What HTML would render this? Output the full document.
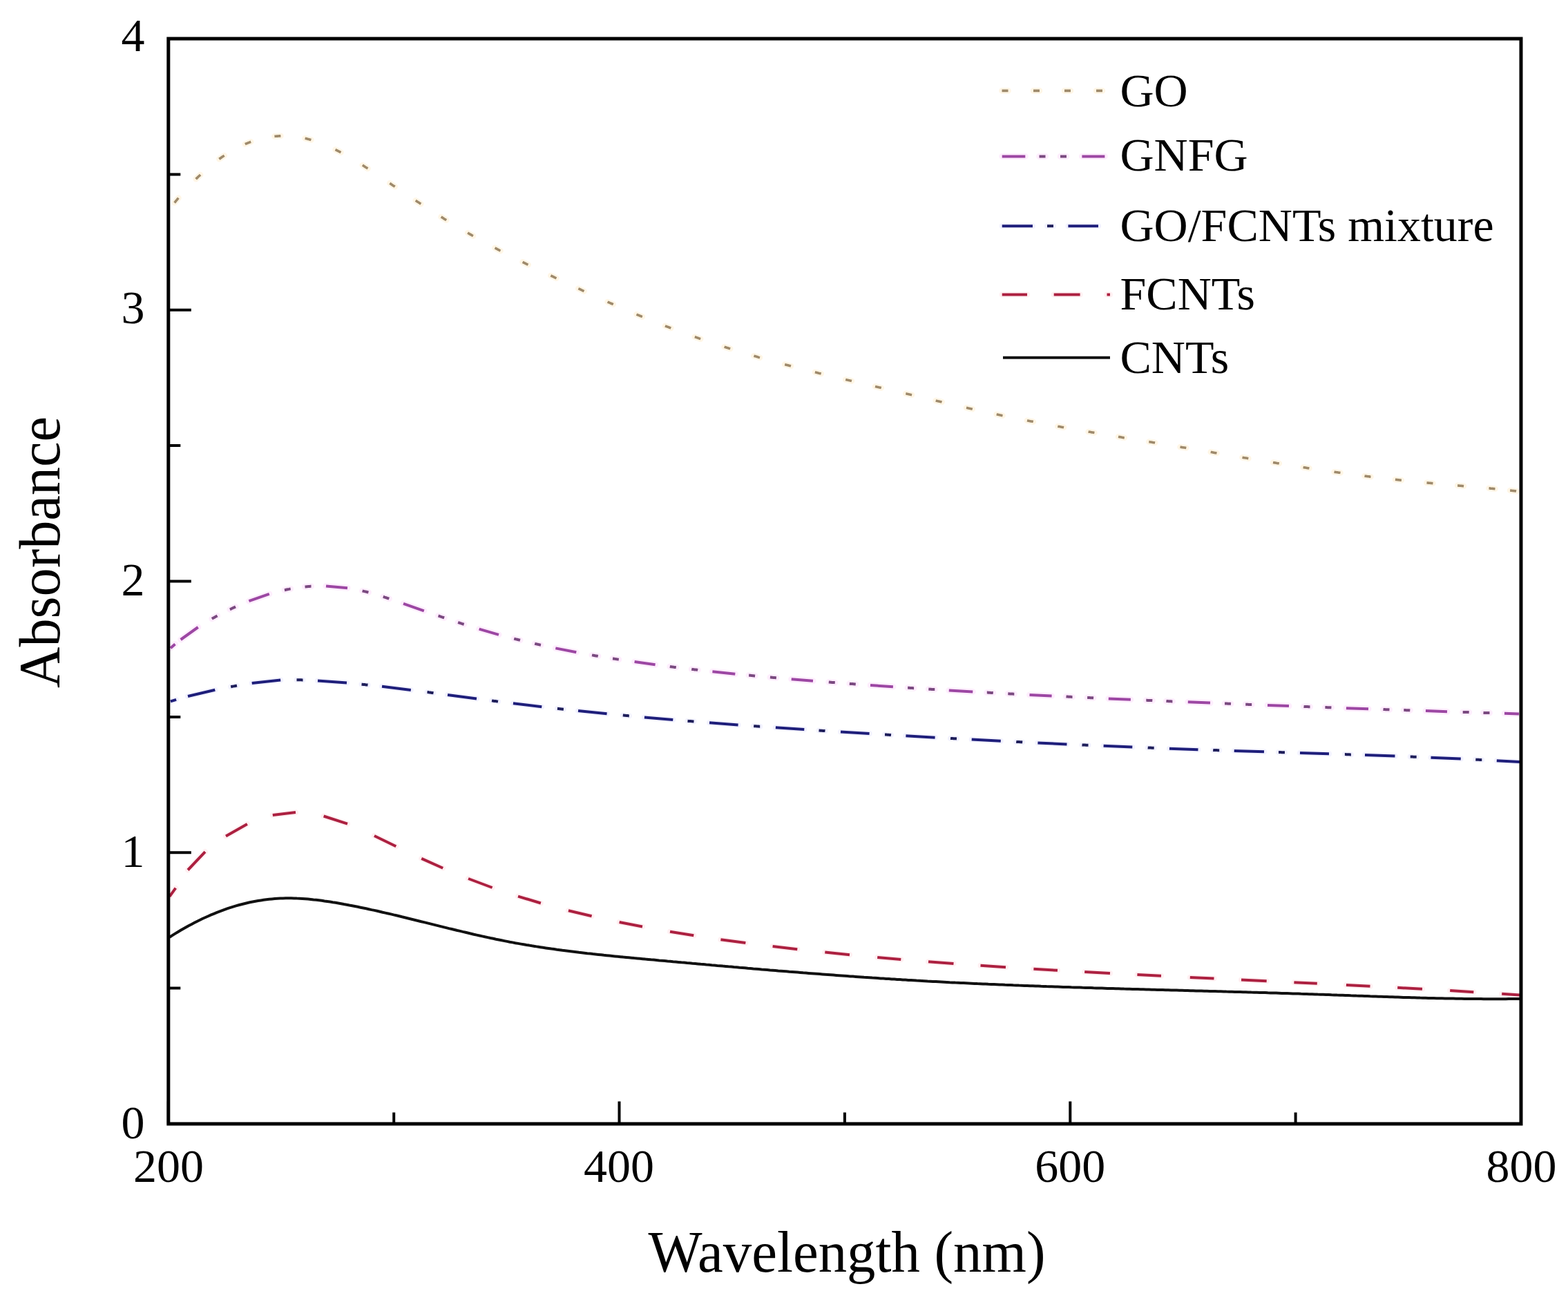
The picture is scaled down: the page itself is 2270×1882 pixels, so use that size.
<!DOCTYPE html>
<html><head><meta charset="utf-8"><title>Absorbance vs Wavelength</title>
<style>html,body{margin:0;padding:0;background:#fff;width:2270px;height:1882px;overflow:hidden}svg{display:block}</style>
</head><body>
<svg width="2270" height="1882" viewBox="0 0 2270 1882" font-family='"Liberation Serif", "Times New Roman", serif' fill="#000"><g><rect x="0" y="0" width="2270" height="1882" fill="#fff"/>
<path d="M252.6,293.5 L253.8,292.1 L254.9,290.7 L256.1,289.3 L257.2,287.9 L258.4,286.6 M283.7,259.2 L284.7,258.1 L285.8,257.1 L286.9,256.0 L288.0,255.0 L289.1,254.0 L290.1,253.0 M317.3,230.3 L318.4,229.5 L319.4,228.8 L320.5,228.0 L321.5,227.3 L322.6,226.6 L323.6,225.9 L324.7,225.2 M354.8,208.7 L355.9,208.2 L356.9,207.8 L358.0,207.4 L359.0,206.9 L360.0,206.5 L361.1,206.1 L362.1,205.7 L363.2,205.3 M397.4,197.4 L398.5,197.3 L399.7,197.2 L400.8,197.1 L401.9,197.1 L403.0,197.0 L404.1,196.9 L405.3,196.9 L406.4,196.8 M441.6,200.3 L442.7,200.5 L443.8,200.8 L444.9,201.1 L446.0,201.4 L447.1,201.6 L448.2,201.9 L449.3,202.2 L450.4,202.5 M485.5,216.6 L486.5,217.1 L487.5,217.6 L488.5,218.1 L489.5,218.6 L490.5,219.1 L491.5,219.6 L492.5,220.2 L493.5,220.7 M524.8,239.1 L525.9,239.8 L527.0,240.5 L528.1,241.2 L529.1,241.9 L530.2,242.6 L531.3,243.3 L532.4,244.0 M564.3,265.3 L565.3,266.0 L566.4,266.8 L567.5,267.5 L568.5,268.2 L569.6,268.9 L570.7,269.6 L571.7,270.3 M601.7,290.3 L602.8,291.0 L603.9,291.7 L605.0,292.4 L606.0,293.1 L607.1,293.8 L608.2,294.6 L609.3,295.3 M638.6,314.0 L639.7,314.6 L640.8,315.3 L641.9,316.0 L642.9,316.7 L644.0,317.4 L645.1,318.0 L646.2,318.7 M677.1,337.1 L678.2,337.8 L679.3,338.4 L680.4,339.1 L681.6,339.7 L682.7,340.3 L683.8,341.0 L684.9,341.6 M716.5,358.9 L717.7,359.5 L718.8,360.1 L719.9,360.7 L721.1,361.3 L722.2,361.9 L723.3,362.5 L724.5,363.1 M756.6,379.3 L757.6,379.8 L758.6,380.3 L759.6,380.8 L760.6,381.3 L761.6,381.8 L762.6,382.3 L763.6,382.8 L764.6,383.2 M797.3,399.0 L798.4,399.5 L799.4,399.9 L800.4,400.4 L801.4,400.9 L802.4,401.4 L803.4,401.9 L804.4,402.3 L805.5,402.8 M837.3,417.8 L838.3,418.2 L839.4,418.7 L840.4,419.2 L841.4,419.7 L842.4,420.1 L843.4,420.6 L844.5,421.1 L845.5,421.6 M879.6,437.0 L880.6,437.5 L881.6,437.9 L882.7,438.4 L883.7,438.8 L884.7,439.3 L885.8,439.7 L886.8,440.2 L887.8,440.7 M921.5,455.1 L922.6,455.6 L923.6,456.0 L924.7,456.4 L925.7,456.9 L926.7,457.3 L927.8,457.7 L928.8,458.2 L929.9,458.6 M962.9,471.8 L963.9,472.2 L965.0,472.6 L966.0,473.0 L967.1,473.4 L968.2,473.8 L969.2,474.2 L970.3,474.6 L971.3,475.0 M1005.8,487.7 L1006.8,488.0 L1007.9,488.4 L1008.9,488.8 L1010.0,489.1 L1011.1,489.5 L1012.1,489.9 L1013.2,490.3 L1014.2,490.6 M1048.6,502.1 L1049.7,502.5 L1050.8,502.8 L1051.8,503.2 L1052.9,503.5 L1054.0,503.8 L1055.0,504.2 L1056.1,504.5 L1057.2,504.8 M1091.4,515.2 L1092.5,515.5 L1093.5,515.8 L1094.6,516.1 L1095.7,516.4 L1096.8,516.7 L1097.9,517.1 L1098.9,517.4 L1100.0,517.7 M1136.2,527.6 L1137.3,527.9 L1138.4,528.2 L1139.5,528.5 L1140.6,528.8 L1141.7,529.1 L1142.8,529.4 L1143.9,529.6 L1145.0,529.9 M1179.9,538.8 L1181.0,539.1 L1182.1,539.4 L1183.2,539.6 L1184.3,539.9 L1185.4,540.2 L1186.5,540.4 L1187.6,540.7 L1188.7,541.0 M1224.2,549.5 L1225.3,549.8 L1226.4,550.1 L1227.5,550.3 L1228.6,550.6 L1229.7,550.8 L1230.8,551.1 L1231.9,551.3 L1233.0,551.6 M1267.0,559.5 L1268.1,559.8 L1269.2,560.0 L1270.3,560.3 L1271.4,560.5 L1272.5,560.8 L1273.6,561.0 L1274.7,561.3 L1275.8,561.6 M1311.3,569.8 L1312.4,570.0 L1313.5,570.3 L1314.6,570.5 L1315.7,570.8 L1316.8,571.1 L1317.9,571.3 L1319.0,571.6 L1320.1,571.8 M1354.7,579.9 L1355.8,580.2 L1356.9,580.4 L1358.0,580.7 L1359.1,580.9 L1360.2,581.2 L1361.3,581.5 L1362.4,581.7 L1363.5,582.0 M1399.0,590.2 L1400.1,590.4 L1401.2,590.7 L1402.3,590.9 L1403.4,591.2 L1404.5,591.4 L1405.6,591.7 L1406.7,591.9 L1407.8,592.2 M1442.7,599.8 L1443.8,600.1 L1444.9,600.3 L1446.0,600.5 L1447.1,600.8 L1448.2,601.0 L1449.3,601.2 L1450.4,601.5 L1451.5,601.7 M1487.0,608.8 L1488.1,609.1 L1489.2,609.3 L1490.3,609.5 L1491.4,609.7 L1492.5,609.9 L1493.6,610.1 L1494.7,610.3 L1495.8,610.6 M1531.3,617.2 L1532.4,617.4 L1533.5,617.6 L1534.6,617.8 L1535.7,618.0 L1536.8,618.2 L1537.9,618.4 L1539.0,618.6 L1540.1,618.8 M1575.6,625.0 L1576.7,625.2 L1577.8,625.3 L1578.9,625.5 L1580.0,625.7 L1581.1,625.9 L1582.2,626.1 L1583.3,626.3 L1584.4,626.5 M1619.0,632.3 L1620.1,632.5 L1621.2,632.6 L1622.3,632.8 L1623.4,633.0 L1624.5,633.2 L1625.6,633.4 L1626.7,633.6 L1627.8,633.7 M1663.3,639.6 L1664.4,639.7 L1665.5,639.9 L1666.6,640.1 L1667.7,640.3 L1668.8,640.5 L1669.9,640.7 L1671.0,640.8 L1672.1,641.0 M1708.5,647.0 L1709.6,647.2 L1710.7,647.4 L1711.8,647.6 L1712.9,647.7 L1714.0,647.9 L1715.1,648.1 L1716.2,648.3 L1717.3,648.5 M1752.7,654.4 L1753.8,654.6 L1754.9,654.8 L1756.0,655.0 L1757.1,655.2 L1758.2,655.4 L1759.3,655.6 L1760.4,655.7 L1761.5,655.9 M1798.5,662.2 L1799.6,662.4 L1800.7,662.6 L1801.8,662.7 L1802.9,662.9 L1804.0,663.1 L1805.1,663.3 L1806.2,663.5 L1807.3,663.7 M1843.0,669.6 L1844.1,669.8 L1845.2,669.9 L1846.3,670.1 L1847.4,670.3 L1848.5,670.5 L1849.6,670.7 L1850.7,670.8 L1851.8,671.0 M1886.6,676.5 L1887.7,676.7 L1888.8,676.9 L1889.9,677.0 L1891.0,677.2 L1892.1,677.4 L1893.2,677.6 L1894.3,677.7 L1895.4,677.9 M1931.5,683.2 L1932.7,683.4 L1933.8,683.5 L1934.9,683.7 L1936.0,683.8 L1937.1,684.0 L1938.2,684.2 L1939.3,684.3 L1940.5,684.5 M1975.5,689.1 L1976.7,689.3 L1977.8,689.4 L1978.9,689.5 L1980.0,689.7 L1981.1,689.8 L1982.2,689.9 L1983.3,690.1 L1984.5,690.2 M2019.9,694.3 L2021.0,694.4 L2022.2,694.5 L2023.3,694.6 L2024.4,694.8 L2025.5,694.9 L2026.6,695.0 L2027.8,695.1 L2028.9,695.2 M2065.5,698.9 L2066.6,699.0 L2067.8,699.1 L2068.9,699.2 L2070.0,699.3 L2071.1,699.4 L2072.2,699.5 L2073.4,699.6 L2074.5,699.7 M2110.1,702.9 L2111.2,703.0 L2112.4,703.1 L2113.5,703.2 L2114.6,703.3 L2115.7,703.4 L2116.8,703.5 L2118.0,703.6 L2119.1,703.7 M2155.5,706.8 L2156.6,706.9 L2157.8,707.1 L2158.9,707.2 L2160.0,707.3 L2161.1,707.4 L2162.2,707.5 L2163.4,707.6 L2164.5,707.7 M2186.1,710.0 L2187.2,710.1 L2188.4,710.2 L2189.5,710.4 L2190.6,710.5 L2191.7,710.6 L2192.8,710.8 L2194.0,710.9 L2195.1,711.1" stroke="#fff6e6" stroke-width="8.6" stroke-linecap="round" fill="none"/>
<path d="M252.6,293.5 L253.8,292.1 L254.9,290.7 L256.1,289.3 L257.2,287.9 L258.4,286.6 M283.7,259.2 L284.7,258.1 L285.8,257.1 L286.9,256.0 L288.0,255.0 L289.1,254.0 L290.1,253.0 M317.3,230.3 L318.4,229.5 L319.4,228.8 L320.5,228.0 L321.5,227.3 L322.6,226.6 L323.6,225.9 L324.7,225.2 M354.8,208.7 L355.9,208.2 L356.9,207.8 L358.0,207.4 L359.0,206.9 L360.0,206.5 L361.1,206.1 L362.1,205.7 L363.2,205.3 M397.4,197.4 L398.5,197.3 L399.7,197.2 L400.8,197.1 L401.9,197.1 L403.0,197.0 L404.1,196.9 L405.3,196.9 L406.4,196.8 M441.6,200.3 L442.7,200.5 L443.8,200.8 L444.9,201.1 L446.0,201.4 L447.1,201.6 L448.2,201.9 L449.3,202.2 L450.4,202.5 M485.5,216.6 L486.5,217.1 L487.5,217.6 L488.5,218.1 L489.5,218.6 L490.5,219.1 L491.5,219.6 L492.5,220.2 L493.5,220.7 M524.8,239.1 L525.9,239.8 L527.0,240.5 L528.1,241.2 L529.1,241.9 L530.2,242.6 L531.3,243.3 L532.4,244.0 M564.3,265.3 L565.3,266.0 L566.4,266.8 L567.5,267.5 L568.5,268.2 L569.6,268.9 L570.7,269.6 L571.7,270.3 M601.7,290.3 L602.8,291.0 L603.9,291.7 L605.0,292.4 L606.0,293.1 L607.1,293.8 L608.2,294.6 L609.3,295.3 M638.6,314.0 L639.7,314.6 L640.8,315.3 L641.9,316.0 L642.9,316.7 L644.0,317.4 L645.1,318.0 L646.2,318.7 M677.1,337.1 L678.2,337.8 L679.3,338.4 L680.4,339.1 L681.6,339.7 L682.7,340.3 L683.8,341.0 L684.9,341.6 M716.5,358.9 L717.7,359.5 L718.8,360.1 L719.9,360.7 L721.1,361.3 L722.2,361.9 L723.3,362.5 L724.5,363.1 M756.6,379.3 L757.6,379.8 L758.6,380.3 L759.6,380.8 L760.6,381.3 L761.6,381.8 L762.6,382.3 L763.6,382.8 L764.6,383.2 M797.3,399.0 L798.4,399.5 L799.4,399.9 L800.4,400.4 L801.4,400.9 L802.4,401.4 L803.4,401.9 L804.4,402.3 L805.5,402.8 M837.3,417.8 L838.3,418.2 L839.4,418.7 L840.4,419.2 L841.4,419.7 L842.4,420.1 L843.4,420.6 L844.5,421.1 L845.5,421.6 M879.6,437.0 L880.6,437.5 L881.6,437.9 L882.7,438.4 L883.7,438.8 L884.7,439.3 L885.8,439.7 L886.8,440.2 L887.8,440.7 M921.5,455.1 L922.6,455.6 L923.6,456.0 L924.7,456.4 L925.7,456.9 L926.7,457.3 L927.8,457.7 L928.8,458.2 L929.9,458.6 M962.9,471.8 L963.9,472.2 L965.0,472.6 L966.0,473.0 L967.1,473.4 L968.2,473.8 L969.2,474.2 L970.3,474.6 L971.3,475.0 M1005.8,487.7 L1006.8,488.0 L1007.9,488.4 L1008.9,488.8 L1010.0,489.1 L1011.1,489.5 L1012.1,489.9 L1013.2,490.3 L1014.2,490.6 M1048.6,502.1 L1049.7,502.5 L1050.8,502.8 L1051.8,503.2 L1052.9,503.5 L1054.0,503.8 L1055.0,504.2 L1056.1,504.5 L1057.2,504.8 M1091.4,515.2 L1092.5,515.5 L1093.5,515.8 L1094.6,516.1 L1095.7,516.4 L1096.8,516.7 L1097.9,517.1 L1098.9,517.4 L1100.0,517.7 M1136.2,527.6 L1137.3,527.9 L1138.4,528.2 L1139.5,528.5 L1140.6,528.8 L1141.7,529.1 L1142.8,529.4 L1143.9,529.6 L1145.0,529.9 M1179.9,538.8 L1181.0,539.1 L1182.1,539.4 L1183.2,539.6 L1184.3,539.9 L1185.4,540.2 L1186.5,540.4 L1187.6,540.7 L1188.7,541.0 M1224.2,549.5 L1225.3,549.8 L1226.4,550.1 L1227.5,550.3 L1228.6,550.6 L1229.7,550.8 L1230.8,551.1 L1231.9,551.3 L1233.0,551.6 M1267.0,559.5 L1268.1,559.8 L1269.2,560.0 L1270.3,560.3 L1271.4,560.5 L1272.5,560.8 L1273.6,561.0 L1274.7,561.3 L1275.8,561.6 M1311.3,569.8 L1312.4,570.0 L1313.5,570.3 L1314.6,570.5 L1315.7,570.8 L1316.8,571.1 L1317.9,571.3 L1319.0,571.6 L1320.1,571.8 M1354.7,579.9 L1355.8,580.2 L1356.9,580.4 L1358.0,580.7 L1359.1,580.9 L1360.2,581.2 L1361.3,581.5 L1362.4,581.7 L1363.5,582.0 M1399.0,590.2 L1400.1,590.4 L1401.2,590.7 L1402.3,590.9 L1403.4,591.2 L1404.5,591.4 L1405.6,591.7 L1406.7,591.9 L1407.8,592.2 M1442.7,599.8 L1443.8,600.1 L1444.9,600.3 L1446.0,600.5 L1447.1,600.8 L1448.2,601.0 L1449.3,601.2 L1450.4,601.5 L1451.5,601.7 M1487.0,608.8 L1488.1,609.1 L1489.2,609.3 L1490.3,609.5 L1491.4,609.7 L1492.5,609.9 L1493.6,610.1 L1494.7,610.3 L1495.8,610.6 M1531.3,617.2 L1532.4,617.4 L1533.5,617.6 L1534.6,617.8 L1535.7,618.0 L1536.8,618.2 L1537.9,618.4 L1539.0,618.6 L1540.1,618.8 M1575.6,625.0 L1576.7,625.2 L1577.8,625.3 L1578.9,625.5 L1580.0,625.7 L1581.1,625.9 L1582.2,626.1 L1583.3,626.3 L1584.4,626.5 M1619.0,632.3 L1620.1,632.5 L1621.2,632.6 L1622.3,632.8 L1623.4,633.0 L1624.5,633.2 L1625.6,633.4 L1626.7,633.6 L1627.8,633.7 M1663.3,639.6 L1664.4,639.7 L1665.5,639.9 L1666.6,640.1 L1667.7,640.3 L1668.8,640.5 L1669.9,640.7 L1671.0,640.8 L1672.1,641.0 M1708.5,647.0 L1709.6,647.2 L1710.7,647.4 L1711.8,647.6 L1712.9,647.7 L1714.0,647.9 L1715.1,648.1 L1716.2,648.3 L1717.3,648.5 M1752.7,654.4 L1753.8,654.6 L1754.9,654.8 L1756.0,655.0 L1757.1,655.2 L1758.2,655.4 L1759.3,655.6 L1760.4,655.7 L1761.5,655.9 M1798.5,662.2 L1799.6,662.4 L1800.7,662.6 L1801.8,662.7 L1802.9,662.9 L1804.0,663.1 L1805.1,663.3 L1806.2,663.5 L1807.3,663.7 M1843.0,669.6 L1844.1,669.8 L1845.2,669.9 L1846.3,670.1 L1847.4,670.3 L1848.5,670.5 L1849.6,670.7 L1850.7,670.8 L1851.8,671.0 M1886.6,676.5 L1887.7,676.7 L1888.8,676.9 L1889.9,677.0 L1891.0,677.2 L1892.1,677.4 L1893.2,677.6 L1894.3,677.7 L1895.4,677.9 M1931.5,683.2 L1932.7,683.4 L1933.8,683.5 L1934.9,683.7 L1936.0,683.8 L1937.1,684.0 L1938.2,684.2 L1939.3,684.3 L1940.5,684.5 M1975.5,689.1 L1976.7,689.3 L1977.8,689.4 L1978.9,689.5 L1980.0,689.7 L1981.1,689.8 L1982.2,689.9 L1983.3,690.1 L1984.5,690.2 M2019.9,694.3 L2021.0,694.4 L2022.2,694.5 L2023.3,694.6 L2024.4,694.8 L2025.5,694.9 L2026.6,695.0 L2027.8,695.1 L2028.9,695.2 M2065.5,698.9 L2066.6,699.0 L2067.8,699.1 L2068.9,699.2 L2070.0,699.3 L2071.1,699.4 L2072.2,699.5 L2073.4,699.6 L2074.5,699.7 M2110.1,702.9 L2111.2,703.0 L2112.4,703.1 L2113.5,703.2 L2114.6,703.3 L2115.7,703.4 L2116.8,703.5 L2118.0,703.6 L2119.1,703.7 M2155.5,706.8 L2156.6,706.9 L2157.8,707.1 L2158.9,707.2 L2160.0,707.3 L2161.1,707.4 L2162.2,707.5 L2163.4,707.6 L2164.5,707.7 M2186.1,710.0 L2187.2,710.1 L2188.4,710.2 L2189.5,710.4 L2190.6,710.5 L2191.7,710.6 L2192.8,710.8 L2194.0,710.9 L2195.1,711.1" stroke="#9e8a6c" stroke-width="3.6" fill="none"/>
<path d="M261.6,926.0L286.7,908.0 M360.4,870.2L389.8,859.9 M472.0,848.4L503.0,851.2 M584.0,873.8L613.8,884.3 M693.6,910.6L722.0,918.8 M804.3,938.4L834.3,944.3 M918.6,958.1L948.6,962.3 M1031.4,972.2L1064.3,975.7 M1145.7,983.2L1177.0,985.7 M1260.0,992.0L1292.9,994.2 M1373.8,999.4L1408.3,1001.4 M1490.5,1005.9L1522.6,1007.5 M1604.8,1011.4L1636.9,1012.8 M1719.8,1016.3L1752.0,1017.6 M1835.0,1020.9L1866.0,1022.1 M1948.9,1025.2L1981.0,1026.3 M2064.0,1029.1L2095.0,1030.2 M2178.0,1032.8L2199.0,1033.4 M246.9,938.2L253.5,932.5" stroke="#feeefd" stroke-width="9" stroke-linecap="round" fill="none"/>
<path d="M261.6,926.0L286.7,908.0 M360.4,870.2L389.8,859.9 M472.0,848.4L503.0,851.2 M584.0,873.8L613.8,884.3 M693.6,910.6L722.0,918.8 M804.3,938.4L834.3,944.3 M918.6,958.1L948.6,962.3 M1031.4,972.2L1064.3,975.7 M1145.7,983.2L1177.0,985.7 M1260.0,992.0L1292.9,994.2 M1373.8,999.4L1408.3,1001.4 M1490.5,1005.9L1522.6,1007.5 M1604.8,1011.4L1636.9,1012.8 M1719.8,1016.3L1752.0,1017.6 M1835.0,1020.9L1866.0,1022.1 M1948.9,1025.2L1981.0,1026.3 M2064.0,1029.1L2095.0,1030.2 M2178.0,1032.8L2199.0,1033.4 M246.9,938.2L253.5,932.5" stroke="#9c47a3" stroke-width="4" fill="none"/>
<path d="M306.8,895.8 L307.9,895.1 L309.0,894.5 L310.1,893.9 L311.3,893.3 L312.4,892.6 L313.5,892.0 L314.6,891.4 M332.8,882.2 L333.8,881.8 L334.9,881.3 L335.9,880.8 L336.9,880.3 L337.9,879.8 L338.9,879.4 L340.0,878.9 L341.0,878.4 M411.9,854.2 L413.0,854.0 L414.1,853.7 L415.2,853.5 L416.3,853.3 L417.4,853.1 L418.5,852.9 L419.6,852.6 L420.7,852.4 M441.5,849.5 L442.6,849.4 L443.8,849.3 L444.9,849.2 L446.0,849.1 L447.1,849.0 L448.2,848.9 L449.4,848.8 L450.5,848.8 M524.6,855.4 L525.7,855.7 L526.8,855.9 L527.9,856.2 L529.0,856.4 L530.1,856.7 L531.2,857.0 L532.3,857.3 L533.4,857.6 M554.7,863.9 L555.8,864.2 L556.9,864.6 L557.9,864.9 L559.0,865.3 L560.1,865.6 L561.1,866.0 L562.2,866.3 L563.3,866.7 M634.5,891.5 L635.6,891.8 L636.7,892.2 L637.7,892.6 L638.8,892.9 L639.9,893.3 L640.9,893.6 L642.0,894.0 L643.1,894.4 M663.1,901.0 L664.2,901.4 L665.3,901.7 L666.3,902.1 L667.4,902.4 L668.5,902.8 L669.5,903.1 L670.6,903.5 L671.7,903.8 M744.2,924.6 L745.3,924.9 L746.4,925.2 L747.5,925.4 L748.6,925.7 L749.7,926.0 L750.8,926.3 L751.9,926.5 L753.0,926.8 M774.2,931.8 L775.3,932.1 L776.4,932.3 L777.5,932.6 L778.6,932.8 L779.7,933.1 L780.8,933.3 L781.9,933.6 L783.0,933.8 M857.0,948.4 L858.1,948.6 L859.2,948.8 L860.3,949.0 L861.4,949.2 L862.5,949.4 L863.6,949.5 L864.7,949.7 L865.8,949.9 M887.0,953.4 L888.1,953.5 L889.2,953.7 L890.3,953.9 L891.4,954.1 L892.5,954.2 L893.6,954.4 L894.7,954.6 L895.8,954.8 M969.8,965.0 L971.0,965.2 L972.1,965.3 L973.2,965.4 L974.3,965.6 L975.4,965.7 L976.5,965.9 L977.6,966.0 L978.8,966.1 M1001.2,968.8 L1002.3,969.0 L1003.5,969.1 L1004.6,969.2 L1005.7,969.4 L1006.8,969.5 L1007.9,969.6 L1009.1,969.7 L1010.2,969.9 M1084.1,977.6 L1085.2,977.7 L1086.4,977.8 L1087.5,977.9 L1088.6,978.1 L1089.7,978.2 L1090.8,978.3 L1092.0,978.4 L1093.1,978.5 M1114.9,980.5 L1116.0,980.6 L1117.2,980.7 L1118.3,980.8 L1119.4,980.9 L1120.5,981.0 L1121.6,981.1 L1122.8,981.2 L1123.9,981.3 M1199.8,987.5 L1200.9,987.6 L1202.1,987.7 L1203.2,987.8 L1204.3,987.9 L1205.4,988.0 L1206.5,988.1 L1207.7,988.1 L1208.8,988.2 M1229.8,989.8 L1230.9,989.9 L1232.1,990.0 L1233.2,990.0 L1234.3,990.1 L1235.4,990.2 L1236.5,990.3 L1237.7,990.4 L1238.8,990.5 M1314.1,995.7 L1315.2,995.7 L1316.4,995.8 L1317.5,995.9 L1318.6,995.9 L1319.7,996.0 L1320.8,996.1 L1322.0,996.2 L1323.1,996.2 M1344.3,997.6 L1345.4,997.7 L1346.6,997.7 L1347.7,997.8 L1348.8,997.9 L1349.9,997.9 L1351.0,998.0 L1352.2,998.1 L1353.3,998.1 M1428.8,1002.6 L1429.9,1002.6 L1431.1,1002.7 L1432.2,1002.8 L1433.3,1002.8 L1434.4,1002.9 L1435.5,1002.9 L1436.7,1003.0 L1437.8,1003.1 M1459.3,1004.2 L1460.4,1004.3 L1461.6,1004.4 L1462.7,1004.4 L1463.8,1004.5 L1464.9,1004.5 L1466.0,1004.6 L1467.2,1004.7 L1468.3,1004.7 M1543.5,1008.5 L1544.6,1008.6 L1545.8,1008.6 L1546.9,1008.7 L1548.0,1008.7 L1549.1,1008.8 L1550.2,1008.8 L1551.4,1008.9 L1552.5,1008.9 M1574.1,1010.0 L1575.2,1010.0 L1576.4,1010.1 L1577.5,1010.1 L1578.6,1010.2 L1579.7,1010.2 L1580.8,1010.3 L1582.0,1010.3 L1583.1,1010.4 M1659.3,1013.8 L1660.4,1013.8 L1661.6,1013.9 L1662.7,1013.9 L1663.8,1014.0 L1664.9,1014.0 L1666.0,1014.1 L1667.2,1014.1 L1668.3,1014.2 M1688.4,1015.0 L1689.5,1015.1 L1690.7,1015.1 L1691.8,1015.2 L1692.9,1015.2 L1694.0,1015.3 L1695.1,1015.3 L1696.3,1015.4 L1697.4,1015.4 M1773.0,1018.5 L1774.1,1018.5 L1775.3,1018.6 L1776.4,1018.6 L1777.5,1018.7 L1778.6,1018.7 L1779.7,1018.8 L1780.9,1018.8 L1782.0,1018.9 M1803.2,1019.7 L1804.3,1019.7 L1805.5,1019.8 L1806.6,1019.8 L1807.7,1019.9 L1808.8,1019.9 L1809.9,1020.0 L1811.1,1020.0 L1812.2,1020.0 M1887.5,1022.9 L1888.6,1023.0 L1889.8,1023.0 L1890.9,1023.0 L1892.0,1023.1 L1893.1,1023.1 L1894.2,1023.2 L1895.4,1023.2 L1896.5,1023.2 M1918.4,1024.1 L1919.5,1024.1 L1920.7,1024.1 L1921.8,1024.2 L1922.9,1024.2 L1924.0,1024.3 L1925.1,1024.3 L1926.3,1024.3 L1927.4,1024.4 M2002.5,1027.0 L2003.6,1027.1 L2004.8,1027.1 L2005.9,1027.2 L2007.0,1027.2 L2008.1,1027.2 L2009.2,1027.3 L2010.4,1027.3 L2011.5,1027.4 M2032.3,1028.1 L2033.4,1028.1 L2034.6,1028.1 L2035.7,1028.2 L2036.8,1028.2 L2037.9,1028.3 L2039.0,1028.3 L2040.2,1028.3 L2041.3,1028.4 M2117.7,1030.9 L2118.8,1030.9 L2120.0,1031.0 L2121.1,1031.0 L2122.2,1031.0 L2123.3,1031.1 L2124.4,1031.1 L2125.6,1031.1 L2126.7,1031.2 M2147.5,1031.8 L2148.6,1031.9 L2149.8,1031.9 L2150.9,1031.9 L2152.0,1032.0 L2153.1,1032.0 L2154.2,1032.0 L2155.4,1032.1 L2156.5,1032.1" stroke="#feeefd" stroke-width="9" stroke-linecap="round" fill="none"/>
<path d="M306.8,895.8 L307.9,895.1 L309.0,894.5 L310.1,893.9 L311.3,893.3 L312.4,892.6 L313.5,892.0 L314.6,891.4 M332.8,882.2 L333.8,881.8 L334.9,881.3 L335.9,880.8 L336.9,880.3 L337.9,879.8 L338.9,879.4 L340.0,878.9 L341.0,878.4 M411.9,854.2 L413.0,854.0 L414.1,853.7 L415.2,853.5 L416.3,853.3 L417.4,853.1 L418.5,852.9 L419.6,852.6 L420.7,852.4 M441.5,849.5 L442.6,849.4 L443.8,849.3 L444.9,849.2 L446.0,849.1 L447.1,849.0 L448.2,848.9 L449.4,848.8 L450.5,848.8 M524.6,855.4 L525.7,855.7 L526.8,855.9 L527.9,856.2 L529.0,856.4 L530.1,856.7 L531.2,857.0 L532.3,857.3 L533.4,857.6 M554.7,863.9 L555.8,864.2 L556.9,864.6 L557.9,864.9 L559.0,865.3 L560.1,865.6 L561.1,866.0 L562.2,866.3 L563.3,866.7 M634.5,891.5 L635.6,891.8 L636.7,892.2 L637.7,892.6 L638.8,892.9 L639.9,893.3 L640.9,893.6 L642.0,894.0 L643.1,894.4 M663.1,901.0 L664.2,901.4 L665.3,901.7 L666.3,902.1 L667.4,902.4 L668.5,902.8 L669.5,903.1 L670.6,903.5 L671.7,903.8 M744.2,924.6 L745.3,924.9 L746.4,925.2 L747.5,925.4 L748.6,925.7 L749.7,926.0 L750.8,926.3 L751.9,926.5 L753.0,926.8 M774.2,931.8 L775.3,932.1 L776.4,932.3 L777.5,932.6 L778.6,932.8 L779.7,933.1 L780.8,933.3 L781.9,933.6 L783.0,933.8 M857.0,948.4 L858.1,948.6 L859.2,948.8 L860.3,949.0 L861.4,949.2 L862.5,949.4 L863.6,949.5 L864.7,949.7 L865.8,949.9 M887.0,953.4 L888.1,953.5 L889.2,953.7 L890.3,953.9 L891.4,954.1 L892.5,954.2 L893.6,954.4 L894.7,954.6 L895.8,954.8 M969.8,965.0 L971.0,965.2 L972.1,965.3 L973.2,965.4 L974.3,965.6 L975.4,965.7 L976.5,965.9 L977.6,966.0 L978.8,966.1 M1001.2,968.8 L1002.3,969.0 L1003.5,969.1 L1004.6,969.2 L1005.7,969.4 L1006.8,969.5 L1007.9,969.6 L1009.1,969.7 L1010.2,969.9 M1084.1,977.6 L1085.2,977.7 L1086.4,977.8 L1087.5,977.9 L1088.6,978.1 L1089.7,978.2 L1090.8,978.3 L1092.0,978.4 L1093.1,978.5 M1114.9,980.5 L1116.0,980.6 L1117.2,980.7 L1118.3,980.8 L1119.4,980.9 L1120.5,981.0 L1121.6,981.1 L1122.8,981.2 L1123.9,981.3 M1199.8,987.5 L1200.9,987.6 L1202.1,987.7 L1203.2,987.8 L1204.3,987.9 L1205.4,988.0 L1206.5,988.1 L1207.7,988.1 L1208.8,988.2 M1229.8,989.8 L1230.9,989.9 L1232.1,990.0 L1233.2,990.0 L1234.3,990.1 L1235.4,990.2 L1236.5,990.3 L1237.7,990.4 L1238.8,990.5 M1314.1,995.7 L1315.2,995.7 L1316.4,995.8 L1317.5,995.9 L1318.6,995.9 L1319.7,996.0 L1320.8,996.1 L1322.0,996.2 L1323.1,996.2 M1344.3,997.6 L1345.4,997.7 L1346.6,997.7 L1347.7,997.8 L1348.8,997.9 L1349.9,997.9 L1351.0,998.0 L1352.2,998.1 L1353.3,998.1 M1428.8,1002.6 L1429.9,1002.6 L1431.1,1002.7 L1432.2,1002.8 L1433.3,1002.8 L1434.4,1002.9 L1435.5,1002.9 L1436.7,1003.0 L1437.8,1003.1 M1459.3,1004.2 L1460.4,1004.3 L1461.6,1004.4 L1462.7,1004.4 L1463.8,1004.5 L1464.9,1004.5 L1466.0,1004.6 L1467.2,1004.7 L1468.3,1004.7 M1543.5,1008.5 L1544.6,1008.6 L1545.8,1008.6 L1546.9,1008.7 L1548.0,1008.7 L1549.1,1008.8 L1550.2,1008.8 L1551.4,1008.9 L1552.5,1008.9 M1574.1,1010.0 L1575.2,1010.0 L1576.4,1010.1 L1577.5,1010.1 L1578.6,1010.2 L1579.7,1010.2 L1580.8,1010.3 L1582.0,1010.3 L1583.1,1010.4 M1659.3,1013.8 L1660.4,1013.8 L1661.6,1013.9 L1662.7,1013.9 L1663.8,1014.0 L1664.9,1014.0 L1666.0,1014.1 L1667.2,1014.1 L1668.3,1014.2 M1688.4,1015.0 L1689.5,1015.1 L1690.7,1015.1 L1691.8,1015.2 L1692.9,1015.2 L1694.0,1015.3 L1695.1,1015.3 L1696.3,1015.4 L1697.4,1015.4 M1773.0,1018.5 L1774.1,1018.5 L1775.3,1018.6 L1776.4,1018.6 L1777.5,1018.7 L1778.6,1018.7 L1779.7,1018.8 L1780.9,1018.8 L1782.0,1018.9 M1803.2,1019.7 L1804.3,1019.7 L1805.5,1019.8 L1806.6,1019.8 L1807.7,1019.9 L1808.8,1019.9 L1809.9,1020.0 L1811.1,1020.0 L1812.2,1020.0 M1887.5,1022.9 L1888.6,1023.0 L1889.8,1023.0 L1890.9,1023.0 L1892.0,1023.1 L1893.1,1023.1 L1894.2,1023.2 L1895.4,1023.2 L1896.5,1023.2 M1918.4,1024.1 L1919.5,1024.1 L1920.7,1024.1 L1921.8,1024.2 L1922.9,1024.2 L1924.0,1024.3 L1925.1,1024.3 L1926.3,1024.3 L1927.4,1024.4 M2002.5,1027.0 L2003.6,1027.1 L2004.8,1027.1 L2005.9,1027.2 L2007.0,1027.2 L2008.1,1027.2 L2009.2,1027.3 L2010.4,1027.3 L2011.5,1027.4 M2032.3,1028.1 L2033.4,1028.1 L2034.6,1028.1 L2035.7,1028.2 L2036.8,1028.2 L2037.9,1028.3 L2039.0,1028.3 L2040.2,1028.3 L2041.3,1028.4 M2117.7,1030.9 L2118.8,1030.9 L2120.0,1031.0 L2121.1,1031.0 L2122.2,1031.0 L2123.3,1031.1 L2124.4,1031.1 L2125.6,1031.1 L2126.7,1031.2 M2147.5,1031.8 L2148.6,1031.9 L2149.8,1031.9 L2150.9,1031.9 L2152.0,1032.0 L2153.1,1032.0 L2154.2,1032.0 L2155.4,1032.1 L2156.5,1032.1" stroke="#7a4a80" stroke-width="4" fill="none"/>
<path d="M272.0,1008.0L311.3,998.7 M364.7,988.9L406.2,984.5 M460.0,985.5L502.0,988.6 M553.0,993.8L594.8,998.9 M648.0,1005.9L690.0,1011.5 M742.9,1018.3L784.3,1023.2 M837.0,1029.0L878.6,1033.3 M932.9,1038.4L974.3,1042.0 M1027.0,1046.3L1068.6,1049.4 M1122.9,1053.3L1164.3,1056.1 M1217.0,1059.5L1258.6,1062.1 M1311.4,1065.2L1353.6,1067.7 M1406.7,1070.6L1448.8,1072.8 M1502.4,1075.4L1544.5,1077.4 M1597.6,1079.8L1639.3,1081.5 M1692.9,1083.7L1734.5,1085.2 M1786.7,1086.9L1830.0,1088.3 M1882.0,1090.0L1924.0,1091.3 M1976.0,1093.1L2019.5,1094.6 M2071.5,1096.7L2114.8,1098.6 M2166.8,1101.2L2200.0,1103.0 M246.9,1015.4L255.1,1012.8" stroke="#f3f3ff" stroke-width="8" stroke-linecap="round" fill="none"/>
<path d="M272.0,1008.0L311.3,998.7 M364.7,988.9L406.2,984.5 M460.0,985.5L502.0,988.6 M553.0,993.8L594.8,998.9 M648.0,1005.9L690.0,1011.5 M742.9,1018.3L784.3,1023.2 M837.0,1029.0L878.6,1033.3 M932.9,1038.4L974.3,1042.0 M1027.0,1046.3L1068.6,1049.4 M1122.9,1053.3L1164.3,1056.1 M1217.0,1059.5L1258.6,1062.1 M1311.4,1065.2L1353.6,1067.7 M1406.7,1070.6L1448.8,1072.8 M1502.4,1075.4L1544.5,1077.4 M1597.6,1079.8L1639.3,1081.5 M1692.9,1083.7L1734.5,1085.2 M1786.7,1086.9L1830.0,1088.3 M1882.0,1090.0L1924.0,1091.3 M1976.0,1093.1L2019.5,1094.6 M2071.5,1096.7L2114.8,1098.6 M2166.8,1101.2L2200.0,1103.0 M246.9,1015.4L255.1,1012.8" stroke="#1e1e7a" stroke-width="4" fill="none"/>
<path d="M334.2,994.2 L335.3,994.0 L336.4,993.8 L337.5,993.6 L338.6,993.4 L339.7,993.2 L340.8,993.0 L341.9,992.8 L343.0,992.6 M429.5,984.2 L430.6,984.2 L431.8,984.2 L432.9,984.2 L434.0,984.3 L435.1,984.3 L436.2,984.3 L437.4,984.4 L438.5,984.4 M523.5,990.7 L524.6,990.8 L525.8,990.9 L526.9,991.0 L528.0,991.1 L529.1,991.3 L530.2,991.4 L531.4,991.5 L532.5,991.6 M618.5,1002.0 L619.7,1002.1 L620.8,1002.3 L621.9,1002.4 L623.0,1002.6 L624.1,1002.7 L625.2,1002.9 L626.3,1003.0 L627.5,1003.2 M712.0,1014.4 L713.2,1014.6 L714.3,1014.7 L715.4,1014.9 L716.5,1015.0 L717.6,1015.1 L718.7,1015.3 L719.8,1015.4 L721.0,1015.6 M806.9,1025.8 L808.0,1025.9 L809.2,1026.0 L810.3,1026.2 L811.4,1026.3 L812.5,1026.4 L813.6,1026.5 L814.8,1026.7 L815.9,1026.8 M901.8,1035.5 L902.9,1035.6 L904.1,1035.7 L905.2,1035.8 L906.3,1035.9 L907.4,1036.0 L908.5,1036.1 L909.7,1036.3 L910.8,1036.4 M995.5,1043.8 L996.6,1043.9 L997.8,1043.9 L998.9,1044.0 L1000.0,1044.1 L1001.1,1044.2 L1002.2,1044.3 L1003.4,1044.4 L1004.5,1044.5 M1091.2,1051.1 L1092.3,1051.2 L1093.5,1051.3 L1094.6,1051.3 L1095.7,1051.4 L1096.8,1051.5 L1097.9,1051.6 L1099.1,1051.7 L1100.2,1051.7 M1185.5,1057.5 L1186.6,1057.6 L1187.8,1057.7 L1188.9,1057.7 L1190.0,1057.8 L1191.1,1057.9 L1192.2,1057.9 L1193.4,1058.0 L1194.5,1058.1 M1281.0,1063.5 L1282.1,1063.5 L1283.3,1063.6 L1284.4,1063.7 L1285.5,1063.7 L1286.6,1063.8 L1287.7,1063.9 L1288.9,1063.9 L1290.0,1064.0 M1376.0,1068.9 L1377.1,1069.0 L1378.3,1069.0 L1379.4,1069.1 L1380.5,1069.2 L1381.6,1069.2 L1382.7,1069.3 L1383.9,1069.3 L1385.0,1069.4 M1471.2,1073.9 L1472.3,1074.0 L1473.5,1074.0 L1474.6,1074.1 L1475.7,1074.1 L1476.8,1074.2 L1477.9,1074.2 L1479.1,1074.3 L1480.2,1074.4 M1566.5,1078.4 L1567.6,1078.5 L1568.8,1078.5 L1569.9,1078.6 L1571.0,1078.6 L1572.1,1078.7 L1573.2,1078.7 L1574.4,1078.8 L1575.5,1078.8 M1661.7,1082.4 L1662.8,1082.5 L1664.0,1082.5 L1665.1,1082.6 L1666.2,1082.6 L1667.3,1082.7 L1668.4,1082.7 L1669.6,1082.8 L1670.7,1082.8 M1756.2,1085.9 L1757.3,1086.0 L1758.5,1086.0 L1759.6,1086.0 L1760.7,1086.1 L1761.8,1086.1 L1762.9,1086.2 L1764.1,1086.2 L1765.2,1086.2 M1851.0,1089.0 L1852.1,1089.0 L1853.3,1089.1 L1854.4,1089.1 L1855.5,1089.2 L1856.6,1089.2 L1857.7,1089.2 L1858.9,1089.3 L1860.0,1089.3 M1946.9,1092.1 L1948.0,1092.1 L1949.2,1092.2 L1950.3,1092.2 L1951.4,1092.2 L1952.5,1092.3 L1953.6,1092.3 L1954.8,1092.4 L1955.9,1092.4 M2041.7,1095.5 L2042.8,1095.5 L2044.0,1095.6 L2045.1,1095.6 L2046.2,1095.7 L2047.3,1095.7 L2048.4,1095.7 L2049.6,1095.8 L2050.7,1095.8 M2136.3,1099.6 L2137.4,1099.7 L2138.6,1099.7 L2139.7,1099.8 L2140.8,1099.8 L2141.9,1099.9 L2143.0,1099.9 L2144.2,1100.0 L2145.3,1100.0" stroke="#f3f3ff" stroke-width="8" stroke-linecap="round" fill="none"/>
<path d="M334.2,994.2 L335.3,994.0 L336.4,993.8 L337.5,993.6 L338.6,993.4 L339.7,993.2 L340.8,993.0 L341.9,992.8 L343.0,992.6 M429.5,984.2 L430.6,984.2 L431.8,984.2 L432.9,984.2 L434.0,984.3 L435.1,984.3 L436.2,984.3 L437.4,984.4 L438.5,984.4 M523.5,990.7 L524.6,990.8 L525.8,990.9 L526.9,991.0 L528.0,991.1 L529.1,991.3 L530.2,991.4 L531.4,991.5 L532.5,991.6 M618.5,1002.0 L619.7,1002.1 L620.8,1002.3 L621.9,1002.4 L623.0,1002.6 L624.1,1002.7 L625.2,1002.9 L626.3,1003.0 L627.5,1003.2 M712.0,1014.4 L713.2,1014.6 L714.3,1014.7 L715.4,1014.9 L716.5,1015.0 L717.6,1015.1 L718.7,1015.3 L719.8,1015.4 L721.0,1015.6 M806.9,1025.8 L808.0,1025.9 L809.2,1026.0 L810.3,1026.2 L811.4,1026.3 L812.5,1026.4 L813.6,1026.5 L814.8,1026.7 L815.9,1026.8 M901.8,1035.5 L902.9,1035.6 L904.1,1035.7 L905.2,1035.8 L906.3,1035.9 L907.4,1036.0 L908.5,1036.1 L909.7,1036.3 L910.8,1036.4 M995.5,1043.8 L996.6,1043.9 L997.8,1043.9 L998.9,1044.0 L1000.0,1044.1 L1001.1,1044.2 L1002.2,1044.3 L1003.4,1044.4 L1004.5,1044.5 M1091.2,1051.1 L1092.3,1051.2 L1093.5,1051.3 L1094.6,1051.3 L1095.7,1051.4 L1096.8,1051.5 L1097.9,1051.6 L1099.1,1051.7 L1100.2,1051.7 M1185.5,1057.5 L1186.6,1057.6 L1187.8,1057.7 L1188.9,1057.7 L1190.0,1057.8 L1191.1,1057.9 L1192.2,1057.9 L1193.4,1058.0 L1194.5,1058.1 M1281.0,1063.5 L1282.1,1063.5 L1283.3,1063.6 L1284.4,1063.7 L1285.5,1063.7 L1286.6,1063.8 L1287.7,1063.9 L1288.9,1063.9 L1290.0,1064.0 M1376.0,1068.9 L1377.1,1069.0 L1378.3,1069.0 L1379.4,1069.1 L1380.5,1069.2 L1381.6,1069.2 L1382.7,1069.3 L1383.9,1069.3 L1385.0,1069.4 M1471.2,1073.9 L1472.3,1074.0 L1473.5,1074.0 L1474.6,1074.1 L1475.7,1074.1 L1476.8,1074.2 L1477.9,1074.2 L1479.1,1074.3 L1480.2,1074.4 M1566.5,1078.4 L1567.6,1078.5 L1568.8,1078.5 L1569.9,1078.6 L1571.0,1078.6 L1572.1,1078.7 L1573.2,1078.7 L1574.4,1078.8 L1575.5,1078.8 M1661.7,1082.4 L1662.8,1082.5 L1664.0,1082.5 L1665.1,1082.6 L1666.2,1082.6 L1667.3,1082.7 L1668.4,1082.7 L1669.6,1082.8 L1670.7,1082.8 M1756.2,1085.9 L1757.3,1086.0 L1758.5,1086.0 L1759.6,1086.0 L1760.7,1086.1 L1761.8,1086.1 L1762.9,1086.2 L1764.1,1086.2 L1765.2,1086.2 M1851.0,1089.0 L1852.1,1089.0 L1853.3,1089.1 L1854.4,1089.1 L1855.5,1089.2 L1856.6,1089.2 L1857.7,1089.2 L1858.9,1089.3 L1860.0,1089.3 M1946.9,1092.1 L1948.0,1092.1 L1949.2,1092.2 L1950.3,1092.2 L1951.4,1092.2 L1952.5,1092.3 L1953.6,1092.3 L1954.8,1092.4 L1955.9,1092.4 M2041.7,1095.5 L2042.8,1095.5 L2044.0,1095.6 L2045.1,1095.6 L2046.2,1095.7 L2047.3,1095.7 L2048.4,1095.7 L2049.6,1095.8 L2050.7,1095.8 M2136.3,1099.6 L2137.4,1099.7 L2138.6,1099.7 L2139.7,1099.8 L2140.8,1099.8 L2141.9,1099.9 L2143.0,1099.9 L2144.2,1100.0 L2145.3,1100.0" stroke="#1e1e5a" stroke-width="4" fill="none"/>
<path d="M245.5,1297.9L254.3,1285.7 M272.0,1259.5L297.0,1233.1 M327.0,1210.5L357.9,1193.0 M394.8,1180.0L428.0,1176.1 M468.6,1181.5L503.0,1192.7 M541.9,1210.0L573.3,1225.3 M610.2,1242.8L641.2,1256.7 M678.0,1272.0L712.6,1285.0 M750.0,1297.6L782.9,1307.5 M822.9,1318.2L856.6,1326.3 M896.6,1335.0L930.0,1341.5 M970.0,1348.7L1004.3,1354.3 M1043.4,1360.2L1079.4,1365.1 M1118.6,1370.1L1154.3,1374.3 M1194.3,1378.6L1230.0,1382.2 M1270.2,1386.0L1304.3,1388.9 M1344.0,1392.2L1380.5,1395.0 M1419.5,1397.8L1456.0,1400.2 M1496.4,1402.8L1531.0,1404.8 M1570.2,1407.1L1607.0,1409.1 M1646.4,1411.1L1681.0,1412.8 M1722.8,1414.9L1757.5,1416.6 M1797.0,1418.5L1833.7,1420.2 M1873.4,1422.2L1906.8,1423.8 M1948.9,1425.9L1983.5,1427.7 M2023.2,1429.8L2059.0,1431.8 M2099.2,1434.1L2133.4,1436.2 M2174.2,1438.8L2200.0,1440.5" stroke="#fff0f2" stroke-width="8" stroke-linecap="round" fill="none"/>
<path d="M245.5,1297.9L254.3,1285.7 M272.0,1259.5L297.0,1233.1 M327.0,1210.5L357.9,1193.0 M394.8,1180.0L428.0,1176.1 M468.6,1181.5L503.0,1192.7 M541.9,1210.0L573.3,1225.3 M610.2,1242.8L641.2,1256.7 M678.0,1272.0L712.6,1285.0 M750.0,1297.6L782.9,1307.5 M822.9,1318.2L856.6,1326.3 M896.6,1335.0L930.0,1341.5 M970.0,1348.7L1004.3,1354.3 M1043.4,1360.2L1079.4,1365.1 M1118.6,1370.1L1154.3,1374.3 M1194.3,1378.6L1230.0,1382.2 M1270.2,1386.0L1304.3,1388.9 M1344.0,1392.2L1380.5,1395.0 M1419.5,1397.8L1456.0,1400.2 M1496.4,1402.8L1531.0,1404.8 M1570.2,1407.1L1607.0,1409.1 M1646.4,1411.1L1681.0,1412.8 M1722.8,1414.9L1757.5,1416.6 M1797.0,1418.5L1833.7,1420.2 M1873.4,1422.2L1906.8,1423.8 M1948.9,1425.9L1983.5,1427.7 M2023.2,1429.8L2059.0,1431.8 M2099.2,1434.1L2133.4,1436.2 M2174.2,1438.8L2200.0,1440.5" stroke="#ac2040" stroke-width="4" fill="none"/>
<path d="M245.5,1356.7 L249.5,1354.1 L253.5,1351.6 L257.5,1349.2 L261.5,1346.8 L265.5,1344.5 L269.5,1342.2 L273.5,1340.0 L277.5,1337.9 L281.5,1335.8 L285.6,1333.7 L289.6,1331.8 L293.6,1329.8 L297.6,1328.0 L301.6,1326.2 L305.6,1324.4 L309.6,1322.8 L313.6,1321.1 L317.6,1319.6 L321.6,1318.1 L325.6,1316.6 L329.6,1315.2 L333.6,1313.9 L337.6,1312.6 L341.6,1311.4 L345.6,1310.3 L349.6,1309.2 L353.6,1308.2 L357.6,1307.2 L361.6,1306.3 L365.7,1305.5 L369.7,1304.7 L373.7,1304.0 L377.7,1303.4 L381.7,1302.8 L385.7,1302.2 L389.7,1301.8 L393.7,1301.4 L397.7,1301.1 L401.7,1300.8 L405.7,1300.6 L409.7,1300.4 L413.7,1300.3 L417.7,1300.3 L421.7,1300.3 L425.7,1300.4 L429.7,1300.6 L433.7,1300.7 L437.7,1301.0 L441.8,1301.3 L445.8,1301.6 L449.8,1301.9 L453.8,1302.4 L457.8,1302.8 L461.8,1303.3 L465.8,1303.8 L469.8,1304.4 L473.8,1304.9 L477.8,1305.5 L481.8,1306.2 L485.8,1306.8 L489.8,1307.5 L493.8,1308.2 L497.8,1309.0 L501.8,1309.7 L505.8,1310.5 L509.8,1311.2 L513.8,1312.0 L517.8,1312.8 L521.9,1313.7 L525.9,1314.5 L529.9,1315.3 L533.9,1316.2 L537.9,1317.1 L541.9,1317.9 L545.9,1318.8 L549.9,1319.7 L553.9,1320.7 L557.9,1321.6 L561.9,1322.5 L565.9,1323.4 L569.9,1324.4 L573.9,1325.3 L577.9,1326.3 L581.9,1327.3 L585.9,1328.2 L589.9,1329.2 L593.9,1330.2 L598.0,1331.2 L602.0,1332.2 L606.0,1333.2 L610.0,1334.2 L614.0,1335.1 L618.0,1336.1 L622.0,1337.1 L626.0,1338.1 L630.0,1339.1 L634.0,1340.1 L638.0,1341.1 L642.0,1342.1 L646.0,1343.1 L650.0,1344.1 L654.0,1345.0 L658.0,1346.0 L662.0,1347.0 L666.0,1347.9 L670.0,1348.9 L674.0,1349.8 L678.1,1350.8 L682.1,1351.7 L686.1,1352.7 L690.1,1353.6 L694.1,1354.5 L698.1,1355.4 L702.1,1356.3 L706.1,1357.1 L710.1,1358.0 L714.1,1358.8 L718.1,1359.7 L722.1,1360.5 L726.1,1361.3 L730.1,1362.1 L734.1,1362.9 L738.1,1363.7 L742.1,1364.4 L746.1,1365.2 L750.1,1365.9 L754.2,1366.6 L758.2,1367.3 L762.2,1368.0 L766.2,1368.6 L770.2,1369.3 L774.2,1369.9 L778.2,1370.6 L782.2,1371.2 L786.2,1371.8 L790.2,1372.4 L794.2,1373.0 L798.2,1373.6 L802.2,1374.1 L806.2,1374.7 L810.2,1375.2 L814.2,1375.8 L818.2,1376.3 L822.2,1376.8 L826.2,1377.3 L830.2,1377.8 L834.3,1378.3 L838.3,1378.8 L842.3,1379.2 L846.3,1379.7 L850.3,1380.2 L854.3,1380.6 L858.3,1381.1 L862.3,1381.5 L866.3,1381.9 L870.3,1382.3 L874.3,1382.8 L878.3,1383.2 L882.3,1383.6 L886.3,1384.0 L890.3,1384.4 L894.3,1384.8 L898.3,1385.2 L902.3,1385.6 L906.3,1385.9 L910.4,1386.3 L914.4,1386.7 L918.4,1387.1 L922.4,1387.4 L926.4,1387.8 L930.4,1388.2 L934.4,1388.6 L938.4,1388.9 L942.4,1389.3 L946.4,1389.6 L950.4,1390.0 L954.4,1390.4 L958.4,1390.7 L962.4,1391.1 L966.4,1391.5 L970.4,1391.8 L974.4,1392.2 L978.4,1392.5 L982.4,1392.9 L986.4,1393.3 L990.5,1393.6 L994.5,1394.0 L998.5,1394.3 L1002.5,1394.7 L1006.5,1395.0 L1010.5,1395.4 L1014.5,1395.8 L1018.5,1396.1 L1022.5,1396.5 L1026.5,1396.8 L1030.5,1397.2 L1034.5,1397.5 L1038.5,1397.9 L1042.5,1398.2 L1046.5,1398.6 L1050.5,1398.9 L1054.5,1399.3 L1058.5,1399.6 L1062.5,1400.0 L1066.6,1400.3 L1070.6,1400.7 L1074.6,1401.0 L1078.6,1401.3 L1082.6,1401.7 L1086.6,1402.0 L1090.6,1402.4 L1094.6,1402.7 L1098.6,1403.0 L1102.6,1403.4 L1106.6,1403.7 L1110.6,1404.0 L1114.6,1404.4 L1118.6,1404.7 L1122.6,1405.0 L1126.6,1405.4 L1130.6,1405.7 L1134.6,1406.0 L1138.6,1406.3 L1142.6,1406.7 L1146.7,1407.0 L1150.7,1407.3 L1154.7,1407.6 L1158.7,1407.9 L1162.7,1408.3 L1166.7,1408.6 L1170.7,1408.9 L1174.7,1409.2 L1178.7,1409.5 L1182.7,1409.8 L1186.7,1410.1 L1190.7,1410.4 L1194.7,1410.7 L1198.7,1411.0 L1202.7,1411.3 L1206.7,1411.6 L1210.7,1411.9 L1214.7,1412.2 L1218.7,1412.5 L1222.8,1412.8 L1226.8,1413.1 L1230.8,1413.4 L1234.8,1413.6 L1238.8,1413.9 L1242.8,1414.2 L1246.8,1414.5 L1250.8,1414.8 L1254.8,1415.0 L1258.8,1415.3 L1262.8,1415.6 L1266.8,1415.8 L1270.8,1416.1 L1274.8,1416.4 L1278.8,1416.6 L1282.8,1416.9 L1286.8,1417.1 L1290.8,1417.4 L1294.8,1417.6 L1298.8,1417.9 L1302.9,1418.1 L1306.9,1418.4 L1310.9,1418.6 L1314.9,1418.9 L1318.9,1419.1 L1322.9,1419.3 L1326.9,1419.6 L1330.9,1419.8 L1334.9,1420.0 L1338.9,1420.2 L1342.9,1420.5 L1346.9,1420.7 L1350.9,1420.9 L1354.9,1421.1 L1358.9,1421.3 L1362.9,1421.5 L1366.9,1421.7 L1370.9,1421.9 L1374.9,1422.2 L1378.9,1422.4 L1383.0,1422.6 L1387.0,1422.7 L1391.0,1422.9 L1395.0,1423.1 L1399.0,1423.3 L1403.0,1423.5 L1407.0,1423.7 L1411.0,1423.9 L1415.0,1424.1 L1419.0,1424.2 L1423.0,1424.4 L1427.0,1424.6 L1431.0,1424.8 L1435.0,1424.9 L1439.0,1425.1 L1443.0,1425.3 L1447.0,1425.5 L1451.0,1425.6 L1455.0,1425.8 L1459.1,1425.9 L1463.1,1426.1 L1467.1,1426.3 L1471.1,1426.4 L1475.1,1426.6 L1479.1,1426.7 L1483.1,1426.9 L1487.1,1427.0 L1491.1,1427.2 L1495.1,1427.3 L1499.1,1427.5 L1503.1,1427.6 L1507.1,1427.8 L1511.1,1427.9 L1515.1,1428.1 L1519.1,1428.2 L1523.1,1428.3 L1527.1,1428.5 L1531.1,1428.6 L1535.1,1428.7 L1539.2,1428.9 L1543.2,1429.0 L1547.2,1429.1 L1551.2,1429.3 L1555.2,1429.4 L1559.2,1429.5 L1563.2,1429.6 L1567.2,1429.8 L1571.2,1429.9 L1575.2,1430.0 L1579.2,1430.1 L1583.2,1430.3 L1587.2,1430.4 L1591.2,1430.5 L1595.2,1430.6 L1599.2,1430.7 L1603.2,1430.9 L1607.2,1431.0 L1611.2,1431.1 L1615.3,1431.2 L1619.3,1431.3 L1623.3,1431.4 L1627.3,1431.6 L1631.3,1431.7 L1635.3,1431.8 L1639.3,1431.9 L1643.3,1432.0 L1647.3,1432.1 L1651.3,1432.2 L1655.3,1432.3 L1659.3,1432.4 L1663.3,1432.5 L1667.3,1432.7 L1671.3,1432.8 L1675.3,1432.9 L1679.3,1433.0 L1683.3,1433.1 L1687.3,1433.2 L1691.3,1433.3 L1695.4,1433.4 L1699.4,1433.5 L1703.4,1433.6 L1707.4,1433.7 L1711.4,1433.8 L1715.4,1433.9 L1719.4,1434.0 L1723.4,1434.2 L1727.4,1434.3 L1731.4,1434.4 L1735.4,1434.5 L1739.4,1434.6 L1743.4,1434.7 L1747.4,1434.8 L1751.4,1434.9 L1755.4,1435.0 L1759.4,1435.1 L1763.4,1435.2 L1767.4,1435.3 L1771.5,1435.4 L1775.5,1435.6 L1779.5,1435.7 L1783.5,1435.8 L1787.5,1435.9 L1791.5,1436.0 L1795.5,1436.1 L1799.5,1436.2 L1803.5,1436.3 L1807.5,1436.4 L1811.5,1436.6 L1815.5,1436.7 L1819.5,1436.8 L1823.5,1436.9 L1827.5,1437.0 L1831.5,1437.1 L1835.5,1437.3 L1839.5,1437.4 L1843.5,1437.5 L1847.5,1437.6 L1851.6,1437.7 L1855.6,1437.9 L1859.6,1438.0 L1863.6,1438.1 L1867.6,1438.2 L1871.6,1438.4 L1875.6,1438.5 L1879.6,1438.6 L1883.6,1438.8 L1887.6,1438.9 L1891.6,1439.0 L1895.6,1439.2 L1899.6,1439.3 L1903.6,1439.4 L1907.6,1439.6 L1911.6,1439.7 L1915.6,1439.8 L1919.6,1440.0 L1923.6,1440.1 L1927.7,1440.3 L1931.7,1440.4 L1935.7,1440.6 L1939.7,1440.7 L1943.7,1440.8 L1947.7,1441.0 L1951.7,1441.1 L1955.7,1441.3 L1959.7,1441.4 L1963.7,1441.6 L1967.7,1441.7 L1971.7,1441.8 L1975.7,1442.0 L1979.7,1442.1 L1983.7,1442.3 L1987.7,1442.4 L1991.7,1442.5 L1995.7,1442.7 L1999.7,1442.8 L2003.7,1443.0 L2007.8,1443.1 L2011.8,1443.2 L2015.8,1443.3 L2019.8,1443.5 L2023.8,1443.6 L2027.8,1443.7 L2031.8,1443.9 L2035.8,1444.0 L2039.8,1444.1 L2043.8,1444.2 L2047.8,1444.3 L2051.8,1444.4 L2055.8,1444.6 L2059.8,1444.7 L2063.8,1444.8 L2067.8,1444.9 L2071.8,1445.0 L2075.8,1445.1 L2079.8,1445.2 L2083.9,1445.2 L2087.9,1445.3 L2091.9,1445.4 L2095.9,1445.5 L2099.9,1445.6 L2103.9,1445.6 L2107.9,1445.7 L2111.9,1445.8 L2115.9,1445.8 L2119.9,1445.9 L2123.9,1445.9 L2127.9,1446.0 L2131.9,1446.0 L2135.9,1446.1 L2139.9,1446.1 L2143.9,1446.1 L2147.9,1446.2 L2151.9,1446.2 L2155.9,1446.2 L2159.9,1446.2 L2164.0,1446.2 L2168.0,1446.2 L2172.0,1446.2 L2176.0,1446.2 L2180.0,1446.2 L2184.0,1446.1 L2188.0,1446.1 L2192.0,1446.1 L2196.0,1446.0 L2200.0,1446.0" stroke="#111111" stroke-width="4" fill="none" stroke-linejoin="round"/>
<path d="M243.8,1627.0h33 M243.8,1234.2h33 M243.8,841.5h33 M243.8,448.8h33 M243.8,56.0h33 M243.8,1430.6h17.5 M243.8,1037.9h17.5 M243.8,645.1h17.5 M243.8,252.4h17.5 M243.8,1627.0v-32.5 M896.5,1627.0v-32.5 M1549.3,1627.0v-32.5 M2202.0,1627.0v-32.5 M570.2,1627.0v-16.5 M1222.9,1627.0v-16.5 M1875.6,1627.0v-16.5" stroke="#000" stroke-width="4" fill="none"/>
<rect x="243.8" y="56.0" width="1958.2" height="1571.0" stroke="#000" stroke-width="5" fill="none"/>
<text x="209.5" y="1648.3" text-anchor="end" font-size="68">0</text>
<text x="209.5" y="1254.5" text-anchor="end" font-size="68">1</text>
<text x="209.5" y="861.5" text-anchor="end" font-size="68">2</text>
<text x="209.5" y="468.1" text-anchor="end" font-size="68">3</text>
<text x="209.5" y="74.4" text-anchor="end" font-size="68">4</text>
<text x="244.0" y="1711" text-anchor="middle" font-size="68">200</text>
<text x="895.9" y="1711" text-anchor="middle" font-size="68">400</text>
<text x="1549.3" y="1711" text-anchor="middle" font-size="68">600</text>
<text x="2202.5" y="1711" text-anchor="middle" font-size="68">800</text>
<text x="938.5" y="1841" font-size="84" textLength="575" lengthAdjust="spacingAndGlyphs">Wavelength (nm)</text>
<text transform="translate(85.5,996) rotate(-90)" font-size="84" textLength="393" lengthAdjust="spacingAndGlyphs">Absorbance</text>
<path d="M1450.5,131.4h9 M1496,131.4h9 M1541,131.4h9 M1587,131.4h9" stroke="#fff6e6" stroke-width="8.6" stroke-linecap="round" fill="none"/>
<path d="M1450.5,131.4h9 M1496,131.4h9 M1541,131.4h9 M1587,131.4h9" stroke="#9e8a6c" stroke-width="3.6" fill="none"/>
<path d="M1450.7,226.4h33.6 M1566.4,226.4h33" stroke="#feeefd" stroke-width="9" stroke-linecap="round" fill="none"/>
<path d="M1450.7,226.4h33.6 M1566.4,226.4h33" stroke="#9c47a3" stroke-width="4" fill="none"/>
<path d="M1504.5,226.4h9 M1535,226.4h9" stroke="#feeefd" stroke-width="9" stroke-linecap="round" fill="none"/>
<path d="M1504.5,226.4h9 M1535,226.4h9" stroke="#7a4a80" stroke-width="4" fill="none"/>
<path d="M1450.7,327.2h44.3 M1546.4,327.2h43.6" stroke="#f3f3ff" stroke-width="8" stroke-linecap="round" fill="none"/>
<path d="M1450.7,327.2h44.3 M1546.4,327.2h43.6" stroke="#1e1e7a" stroke-width="4" fill="none"/>
<path d="M1516,327.2h9" stroke="#f3f3ff" stroke-width="8" stroke-linecap="round" fill="none"/>
<path d="M1516,327.2h9" stroke="#1e1e5a" stroke-width="4" fill="none"/>
<path d="M1450.7,426.6h36.3 M1525.7,426.6h37.9 M1602.5,426.6h4.5" stroke="#fff0f2" stroke-width="8" stroke-linecap="round" fill="none"/>
<path d="M1450.7,426.6h36.3 M1525.7,426.6h37.9 M1602.5,426.6h4.5" stroke="#ac2040" stroke-width="4" fill="none"/>
<path d="M1452,517.7H1607" stroke="#111111" stroke-width="4" fill="none"/>
<text x="1621.5" y="154.0" font-size="68">GO</text>
<text x="1621.5" y="246.6" font-size="68">GNFG</text>
<text x="1621.5" y="349.0" font-size="68">GO/FCNTs mixture</text>
<text x="1621.5" y="448.0" font-size="68">FCNTs</text>
<text x="1621.5" y="540.4" font-size="68">CNTs</text></g></svg>
</body></html>
